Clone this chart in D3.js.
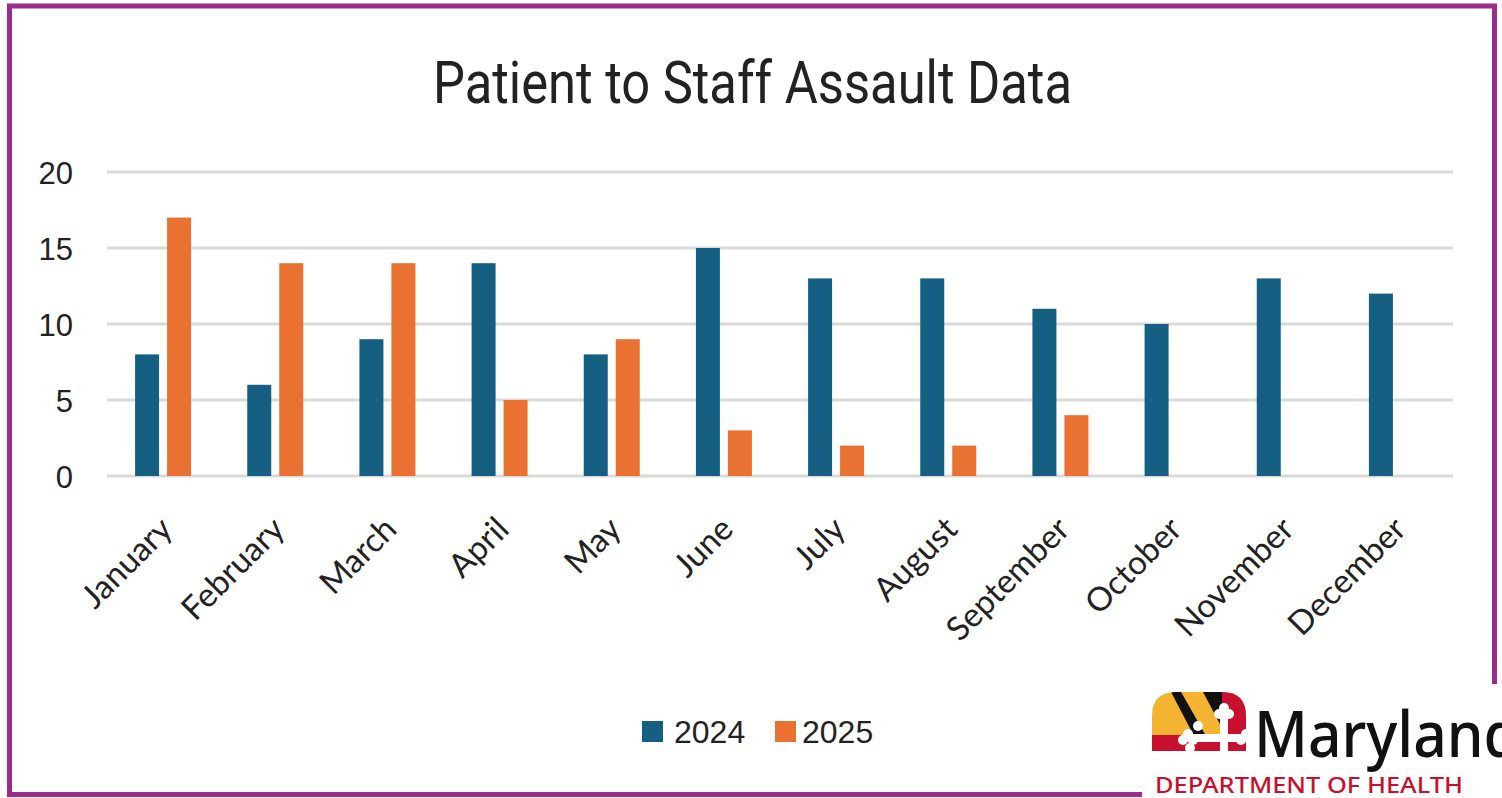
<!DOCTYPE html>
<html>
<head>
<meta charset="utf-8">
<script src="https://cdn.jsdelivr.net/npm/d3@7"></script>
<style>
  html, body { margin: 0; padding: 0; background: #fff; }
  svg { display: block; }
</style>
</head>
<body>
<svg id="chart" width="1502" height="798"></svg>
<script>
// Monthly patient-to-staff assault counts
const months = ["January", "February", "March", "April", "May", "June",
                "July", "August", "September", "October", "November", "December"];
const series = ["2024", "2025"];
const values2024 = [8, 6, 9, 14, 8, 15, 13, 13, 11, 10, 13, 12];
const values2025 = [17, 14, 14, 5, 9, 3, 2, 2, 4, null, null, null];
const yTicks = [0, 5, 10, 15, 20];
const colors = { "2024": "#156082", "2025": "#e97132" };

const svg = d3.select("#chart");
const W = 1502, H = 798;

svg.append("rect").attr("width", W).attr("height", H).attr("fill", "#fff");

// outer frame
svg.append("rect")
  .attr("x", 9.5).attr("y", 6).attr("width", 1485).attr("height", 788.5)
  .attr("fill", "none").attr("stroke", "#9b2c8c").attr("stroke-width", 5);

const plot = { left: 107, right: 1453, top: 172, bottom: 476 };

const x0 = d3.scaleBand().domain(months).range([plot.left, plot.right]).padding(0);
const bw = x0.bandwidth();
const x1 = d3.scaleBand().domain(series)
  .range([bw / 2 - 28, bw / 2 + 28]).paddingInner(0.25).paddingOuter(0);
const y = d3.scaleLinear().domain([0, 20]).range([plot.bottom, plot.top]);

// gridlines
svg.append("g")
  .selectAll("line").data(yTicks).join("line")
  .attr("x1", plot.left).attr("x2", plot.right)
  .attr("y1", d => y(d)).attr("y2", d => y(d))
  .attr("stroke", "#d9d9d9").attr("stroke-width", 3);

// y axis labels
const yAxis = d3.axisLeft(y).tickValues(yTicks).tickSize(0).tickPadding(0);
const gy = svg.append("g").attr("transform", `translate(73,0)`).call(yAxis);
gy.select(".domain").remove();
gy.selectAll("text")
  .attr("font-family", "'Liberation Sans', Arial, sans-serif")
  .attr("font-size", 31).attr("fill", "#222").attr("dy", "0.36em");

// bars
const rows = months.map((m, i) => ({ month: m, "2024": values2024[i], "2025": values2025[i] }));
const groups = svg.append("g").selectAll("g").data(rows).join("g")
  .attr("transform", d => `translate(${x0(d.month)},0)`);
groups.selectAll("rect")
  .data(d => series.map(s => ({ key: s, value: d[s] })).filter(e => e.value != null))
  .join("rect")
  .attr("x", d => x1(d.key))
  .attr("width", x1.bandwidth())
  .attr("y", d => y(d.value))
  .attr("height", d => y(0) - y(d.value))
  .attr("fill", d => colors[d.key]);

// month labels
const xAxis = d3.axisBottom(x0).tickSize(0).tickPadding(0);
const gx = svg.append("g").attr("transform", `translate(0,${plot.bottom})`).call(xAxis);
gx.select(".domain").remove();
gx.selectAll("text")
  .attr("font-family", "Lato, 'Open Sans', sans-serif")
  .attr("font-size", 33).attr("fill", "#222")
  .attr("text-anchor", "end")
  .attr("dy", "0.35em")
  .attr("transform", "translate(3,47) rotate(-45)");

// title
svg.append("text")
  .attr("x", 752.5).attr("y", 103)
  .attr("text-anchor", "middle")
  .attr("font-family", "Roboto, 'Open Sans', sans-serif")
  .attr("font-size", 60).attr("fill", "#222")
  .attr("textLength", 639).attr("lengthAdjust", "spacingAndGlyphs")
  .text("Patient to Staff Assault Data");

// legend
const legendItems = [
  { key: "2024", sx: 642, tx: 674 },
  { key: "2025", sx: 775, tx: 802 }
];
const lg = svg.append("g").selectAll("g").data(legendItems).join("g");
lg.append("rect")
  .attr("x", d => d.sx).attr("y", 721).attr("width", 21).attr("height", 21)
  .attr("fill", d => colors[d.key]);
lg.append("text")
  .attr("x", d => d.tx).attr("y", 743)
  .attr("font-family", "'Liberation Sans', Arial, sans-serif")
  .attr("font-size", 32).attr("fill", "#222")
  .text(d => d.key);

// agency logo block
const logo = svg.append("g");
logo.append("rect").attr("x", 1142).attr("y", 684).attr("width", 360).attr("height", 114).attr("fill", "#fff");

const defs = svg.append("defs");
defs.append("clipPath").attr("id", "dome")
  .append("path")
  .attr("d", "M1152,751 L1152,716 Q1152,692 1176,692 L1222,692 Q1246,692 1246,716 L1246,751 Z");

const flag = logo.append("g").attr("clip-path", "url(#dome)");
const gold = "#f4b431", red = "#c8102e", black = "#111";
flag.append("rect").attr("x", 1150).attr("y", 690).attr("width", 100).attr("height", 65).attr("fill", gold);
// black bands of the upper-left quarter
flag.append("polygon").attr("points", "1170,690 1180,690 1206,736 1194,736").attr("fill", black);
flag.append("polygon").attr("points", "1202,690 1222,690 1222,728").attr("fill", black);
// red quarters
flag.append("rect").attr("x", 1222).attr("y", 690).attr("width", 30).attr("height", 50).attr("fill", red);
flag.append("rect").attr("x", 1150).attr("y", 735).attr("width", 100).attr("height", 20).attr("fill", red);
// white bottony cross
const cross = flag.append("g").attr("fill", "#fff");
cross.append("rect").attr("x", 1220).attr("y", 712).attr("width", 8).attr("height", 45);
cross.append("rect").attr("x", 1188).attr("y", 734).attr("width", 60).attr("height", 8);
[[1224, 712], [1188, 738], [1246, 738]].forEach(([cx, cy]) => {
  cross.append("circle").attr("cx", cx).attr("cy", cy - 4).attr("r", 5);
  cross.append("circle").attr("cx", cx - 5).attr("cy", cy + 2).attr("r", 5);
  cross.append("circle").attr("cx", cx + 5).attr("cy", cy + 2).attr("r", 5);
});
cross.append("circle").attr("cx", 1190).attr("cy", 748).attr("r", 5);
cross.append("circle").attr("cx", 1198).attr("cy", 726).attr("r", 5);

logo.append("text")
  .attr("x", 1254).attr("y", 757)
  .attr("font-family", "'Noto Sans', sans-serif")
  .attr("font-weight", 500)
  .attr("font-size", 64).attr("fill", "#111")
  .attr("textLength", 266).attr("lengthAdjust", "spacingAndGlyphs")
  .text("Maryland");

logo.append("text")
  .attr("x", 1155).attr("y", 793)
  .attr("font-family", "'Noto Sans', sans-serif")
  .attr("font-weight", 500)
  .attr("font-size", 21).attr("fill", red)
  .attr("textLength", 308).attr("lengthAdjust", "spacingAndGlyphs")
  .text("DEPARTMENT OF HEALTH");
</script>
</body>
</html>
